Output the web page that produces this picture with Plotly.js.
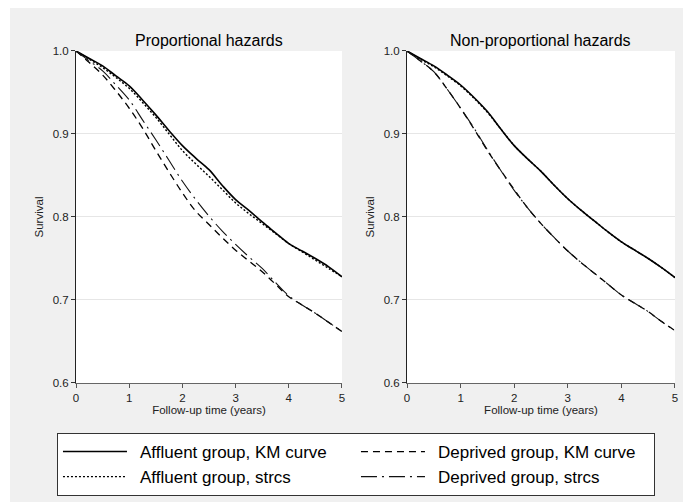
<!DOCTYPE html>
<html>
<head>
<meta charset="utf-8">
<script src="https://cdn.plot.ly/plotly-3.0.1.min.js"></script>
<style>
  html, body { margin: 0; padding: 0; background: #ffffff; }
  #chart { position: absolute; left: 10px; top: 8px; width: 673px; height: 494px; }
</style>
</head>
<body>
<div id="chart"></div>
<script>
// Follow-up time (years)
const timeYears = [0, 0.25, 0.5, 0.75, 1, 1.25, 1.5, 1.75, 2, 2.25, 2.5, 2.75, 3, 3.25, 3.5, 3.75, 4, 4.25, 4.5, 4.75, 5];

// Panel titles and legend labels
const panelTitles = ["Proportional hazards", "Non-proportional hazards"];
const seriesNames = ["Affluent group, KM curve", "Deprived group, KM curve", "Affluent group, strcs", "Deprived group, strcs"];
const yTickVals = [0.6, 0.7, 0.8, 0.9, 1.0];
const xTickVals = [0, 1, 2, 3, 4, 5];

// Proportional hazards panel
const phAffluentKM     = [1.000, 0.991, 0.982, 0.970, 0.958, 0.941, 0.923, 0.904, 0.886, 0.871, 0.857, 0.838, 0.821, 0.808, 0.794, 0.781, 0.768, 0.759, 0.750, 0.740, 0.728];
const phDeprivedKM     = [1.000, 0.986, 0.971, 0.952, 0.931, 0.907, 0.880, 0.854, 0.829, 0.807, 0.791, 0.775, 0.760, 0.747, 0.734, 0.719, 0.704, 0.694, 0.684, 0.673, 0.662];
const phAffluentStrcs  = [1.000, 0.990, 0.980, 0.968, 0.955, 0.938, 0.920, 0.900, 0.880, 0.864, 0.849, 0.833, 0.817, 0.804, 0.792, 0.780, 0.768, 0.758, 0.748, 0.738, 0.728];
const phDeprivedStrcs  = [1.000, 0.988, 0.976, 0.959, 0.941, 0.917, 0.893, 0.868, 0.843, 0.821, 0.801, 0.783, 0.767, 0.752, 0.738, 0.721, 0.705, 0.694, 0.684, 0.673, 0.662];

// Non-proportional hazards panel
const nphAffluentKM    = [1.000, 0.991, 0.982, 0.971, 0.959, 0.944, 0.927, 0.906, 0.886, 0.870, 0.855, 0.838, 0.822, 0.808, 0.795, 0.782, 0.770, 0.760, 0.750, 0.739, 0.727];
const nphDeprivedKM    = [1.000, 0.988, 0.975, 0.954, 0.931, 0.906, 0.880, 0.856, 0.833, 0.811, 0.792, 0.775, 0.759, 0.745, 0.732, 0.719, 0.706, 0.696, 0.686, 0.674, 0.663];
const nphAffluentStrcs = [1.000, 0.990, 0.981, 0.970, 0.958, 0.943, 0.926, 0.906, 0.886, 0.870, 0.855, 0.838, 0.822, 0.808, 0.795, 0.782, 0.770, 0.760, 0.750, 0.739, 0.727];
const nphDeprivedStrcs = [1.000, 0.988, 0.975, 0.954, 0.931, 0.907, 0.881, 0.856, 0.832, 0.811, 0.792, 0.775, 0.759, 0.745, 0.732, 0.719, 0.706, 0.696, 0.686, 0.674, 0.663];

const lineStyles = [
  {color: "#000000", width: 1.6, dash: "solid"},
  {color: "#000000", width: 1.3, dash: "7px,5px"},
  {color: "#000000", width: 1.4, dash: "2px,2px"},
  {color: "#111111", width: 1.1, dash: "16px,5px,2px,5px"}
];

const panelData = [
  [phAffluentKM, phDeprivedKM, phAffluentStrcs, phDeprivedStrcs],
  [nphAffluentKM, nphDeprivedKM, nphAffluentStrcs, nphDeprivedStrcs]
];

const traces = [];
panelData.forEach((series, p) => {
  series.forEach((vals, i) => {
    traces.push({
      type: "scatter", mode: "lines",
      x: timeYears, y: vals,
      name: seriesNames[i],
      xaxis: p === 0 ? "x" : "x2",
      yaxis: p === 0 ? "y" : "y2",
      line: Object.assign({shape: "spline", smoothing: 1}, lineStyles[i]),
      showlegend: p === 0,
      hoverinfo: "skip"
    });
  });
});

const FONT = "Liberation Sans, Arial, sans-serif";

function xAxis(domain) {
  return {
    domain: domain, range: [0, 5], tickvals: xTickVals, ticks: "outside", ticklen: 4, tickwidth: 1,
    tickcolor: "#555", showline: true, linecolor: "#666", linewidth: 1, showgrid: false, zeroline: false,
    tickfont: {family: FONT, size: 11.5, color: "#222"},
    title: {text: "Follow-up time (years)", font: {family: FONT, size: 11.5, color: "#222"}, standoff: 0}
  };
}
function yAxis(domain, anchor) {
  return {
    domain: domain, range: [0.6, 1.0], tickvals: yTickVals, tickformat: ".1f", ticks: "outside", ticklen: 4,
    tickwidth: 1, tickcolor: "#333", showline: true, linecolor: "#222", linewidth: 1,
    showgrid: true, gridcolor: "#e6e6e6", gridwidth: 1, zeroline: false, anchor: anchor,
    tickfont: {family: FONT, size: 11.5, color: "#222"},
    title: {text: "Survival", font: {family: FONT, size: 11.5, color: "#222"}, standoff: 6}
  };
}

const yDom = [0.2409, 0.9130];
const xDom1 = [0.0981, 0.4933];
const xDom2 = [0.5899, 0.9881];

const layout = {
  width: 673, height: 494,
  margin: {l: 0, r: 0, t: 0, b: 0},
  paper_bgcolor: "#f0f0f0",
  plot_bgcolor: "#ffffff",
  font: {family: FONT, color: "#000"},
  xaxis: Object.assign(xAxis(xDom1), {anchor: "y"}),
  yaxis: yAxis(yDom, "x"),
  xaxis2: Object.assign(xAxis(xDom2), {anchor: "y2"}),
  yaxis2: yAxis(yDom, "x2"),
  annotations: [
    {text: panelTitles[0], xref: "paper", yref: "paper", x: (xDom1[0] + xDom1[1]) / 2, y: 0.935,
     xanchor: "center", yanchor: "middle", showarrow: false, font: {family: FONT, size: 16, color: "#000"}},
    {text: panelTitles[1], xref: "paper", yref: "paper", x: (xDom2[0] + xDom2[1]) / 2, y: 0.935,
     xanchor: "center", yanchor: "middle", showarrow: false, font: {family: FONT, size: 16, color: "#000"}}
  ],
  showlegend: true,
  legend: {
    orientation: "h", x: 0.0698, xanchor: "left", y: 0.1397, yanchor: "top",
    bgcolor: "#ffffff", bordercolor: "#333", borderwidth: 1,
    font: {family: FONT, size: 17, color: "#000"},
    itemwidth: 72, entrywidth: 211, entrywidthmode: "pixels",
    traceorder: "normal", itemclick: false, itemdoubleclick: false
  }
};

Plotly.newPlot("chart", traces, layout, {staticPlot: true, displayModeBar: false}).then(() => {
  document.querySelectorAll("#chart .legend .js-line").forEach(p => p.setAttribute("d", "M5,0h64"));
});
</script>
</body>
</html>
